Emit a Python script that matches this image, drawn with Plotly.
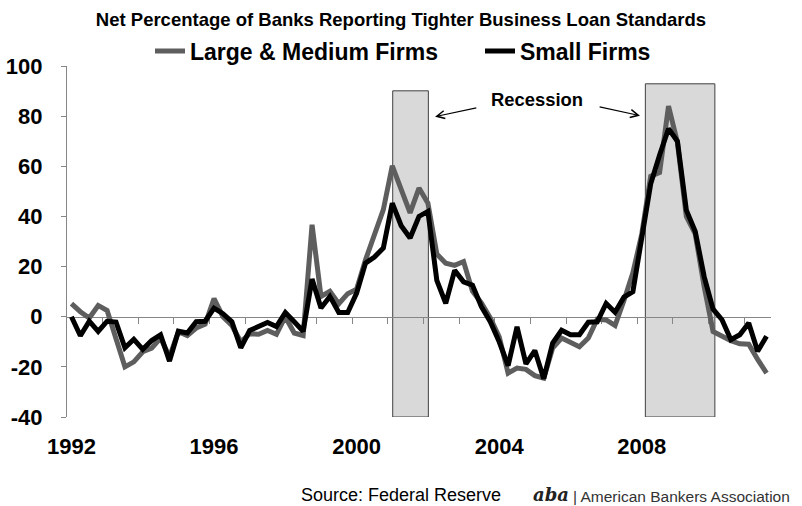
import plotly.graph_objects as go

# Quarterly data, 1992Q1 .. 2011Q3 (net % of banks reporting tighter standards)
start_year = 1992
large_medium = [5.2, 2.0, -0.5, 4.5, 2.5, -8.5, -20.0, -18.0, -14.0, -12.5,
                -8.5, -16.0, -6.0, -7.5, -4.5, -3.0, 7.2, 0.0, -3.5, -10.0,
                -6.8, -7.0, -5.5, -7.0, 0.0, -6.5, -7.5, 36.7, 8.1, 10.1,
                5.2, 9.2, 11.0, 22.7, 32.7, 42.7, 60.2, 50.7, 41.4, 51.3,
                45.3, 25.0, 21.3, 20.5, 22.0, 10.2, 5.5, -0.5, -8.0, -22.5,
                -20.5, -21.0, -23.5, -24.5, -12.5, -8.5, -10.0, -12.0, -8.5, -1.0,
                -1.3, -3.5, 6.5, 17.5, 33.0, 56.0, 57.5, 84.0, 69.5, 40.0,
                33.0, 12.0, -5.9, -7.8, -9.6, -10.8, -11.0, -17.0, -22.5]
small = [0.0, -7.6, -1.8, -5.9, -1.8, -2.1, -12.4, -9.0, -13.0, -9.5,
         -7.2, -17.7, -5.8, -6.5, -2.0, -1.8, 3.4, 1.2, -2.0, -12.4,
         -5.5, -3.7, -2.3, -3.9, 1.7, -2.0, -5.8, 15.0, 3.5, 8.1,
         1.7, 1.7, 9.4, 21.4, 23.8, 27.4, 45.3, 36.3, 31.4, 40.0,
         42.0, 14.5, 5.3, 18.5, 13.9, 12.6, 4.0, -2.0, -10.0, -19.5,
         -4.0, -18.8, -13.5, -24.7, -10.5, -5.4, -7.2, -7.2, -2.2, -2.0,
         5.3, 1.8, 7.8, 10.0, 31.0, 53.0, 64.5, 75.0, 70.0, 42.5,
         34.0, 16.0, 3.0, -1.2, -9.2, -7.2, -2.5, -13.8, -7.8]
quarters = [f"{start_year + k // 4}Q{k % 4 + 1}" for k in range(len(small))]
series_names = ["Large & Medium Firms", "Small Firms"]

x_label_years = ["1992", "1996", "2000", "2004", "2008"]
y_tick_values = [-40, -20, 0, 20, 40, 60, 80, 100]
y_tick_text = ["-40", "-20", "0", "20", "40", "60", "80", "100"]

# recession shading: (start position, end position, top) in quarter-index units
recessions = [(36.05, 40.05, 90.1), (64.4, 72.2, 92.9)]

FONT = "Arial, 'Liberation Sans', sans-serif"
GRAY = "#5e5e5e"
AXIS = "#868686"

xpos = list(range(len(quarters)))
label_pos = [quarters.index(f"{y}Q1") for y in x_label_years]
year_bounds = [quarters.index(q) - 0.5 for q in quarters if q.endswith("Q1")][1:]
xr = [-0.5, len(quarters) - 0.5]
yr = [y_tick_values[0], y_tick_values[-1]]

fig = go.Figure()
fig.add_trace(go.Scatter(x=xpos, y=large_medium, mode="lines", name=series_names[0],
                         line=dict(color=GRAY, width=5), customdata=quarters, legend="legend",
                         hovertemplate="%{customdata}: %{y}<extra></extra>"))
fig.add_trace(go.Scatter(x=xpos, y=small, mode="lines", name=series_names[1],
                         line=dict(color="#000000", width=5), customdata=quarters, legend="legend2",
                         hovertemplate="%{customdata}: %{y}<extra></extra>"))
# invisible helper trace for the tick-mark axis through zero
fig.add_trace(go.Scatter(x=[xpos[0]], y=[None], xaxis="x2", showlegend=False,
                         hoverinfo="skip", mode="lines"))

for x0, x1, top in recessions:
    fig.add_shape(type="rect", xref="x", yref="y", x0=x0, x1=x1, y0=yr[0], y1=top,
                  fillcolor="#d9d9d9", line=dict(color="#404040", width=1),
                  layer="between")

zero_frac = (0 - yr[0]) / (yr[1] - yr[0])
PW, PL = 704, 67

legend_common = dict(orientation="h", xanchor="left", yanchor="middle",
                     y=1 + (66 - 51) / 351,
                     font=dict(size=23, family=FONT, color="#000000", weight="bold"),
                     bgcolor="rgba(0,0,0,0)", borderwidth=0)

fig.update_layout(
    width=802, height=506,
    margin=dict(l=PL, r=31, t=66, b=89, autoexpand=False),
    paper_bgcolor="white", plot_bgcolor="white",
    font=dict(family=FONT, color="#000000"),
    title=dict(text="<b>Net Percentage of Banks Reporting Tighter Business Loan Standards</b>",
               x=0.5, xref="container", xanchor="center",
               y=1 - 20 / 506, yref="container", yanchor="middle",
               font=dict(size=18.5, family=FONT, color="#000000")),
    showlegend=True,
    legend=dict(x=(150 - PL) / PW, **legend_common),
    legend2=dict(x=(480 - PL) / PW, **legend_common),
    xaxis=dict(range=xr, tickmode="array", tickvals=label_pos, ticktext=x_label_years,
               ticks="", showline=False, showgrid=False, zeroline=False,
               tickfont=dict(size=22, family=FONT, color="#000000", weight="bold"),
               ticklabelstandoff=14),
    xaxis2=dict(range=xr, overlaying="x", anchor="free", position=zero_frac, side="bottom",
                tickmode="array", tickvals=year_bounds, showticklabels=False,
                ticks="outside", ticklen=6, tickcolor=AXIS, tickwidth=1.3,
                showline=True, linecolor=AXIS, linewidth=1.3,
                showgrid=False, zeroline=False, layer="below traces"),
    yaxis=dict(range=yr, tickmode="array", tickvals=y_tick_values, ticktext=y_tick_text,
               ticks="outside", ticklen=5, tickcolor=AXIS, tickwidth=1.3,
               showline=True, linecolor=AXIS, linewidth=1.3,
               showgrid=False, zeroline=False,
               tickfont=dict(size=22, family=FONT, color="#000000", weight="bold"),
               ticklabelstandoff=14),
)

fig.add_annotation(text="<b>Recession</b>", xref="x", yref="y", x=52.2, y=86.5,
                   showarrow=False, font=dict(size=18.4, family=FONT, color="#000000"))
fig.add_annotation(text="", xref="x", yref="y", x=40.8, y=79.8, axref="x", ayref="y",
                   ax=45.6, ay=83.4, showarrow=True, arrowhead=5, arrowsize=1.3,
                   arrowwidth=1.2, arrowcolor="#000000")
fig.add_annotation(text="", xref="x", yref="y", x=63.8, y=80.2, axref="x", ayref="y",
                   ax=59.1, ay=83.8, showarrow=True, arrowhead=5, arrowsize=1.3,
                   arrowwidth=1.2, arrowcolor="#000000")

fig.add_annotation(text="Source: Federal Reserve", xref="paper", yref="paper",
                   x=(401 - PL) / PW, y=(417 - 495) / 351, xanchor="center", yanchor="middle",
                   showarrow=False, font=dict(size=18, family=FONT, color="#000000"))
fig.add_annotation(text="<b><i>aba</i></b>", xref="paper", yref="paper",
                   x=(551 - PL) / PW, y=(417 - 494) / 351, xanchor="center", yanchor="middle",
                   showarrow=False, font=dict(size=18, family="'DejaVu Serif', serif", color="#222222"))
fig.add_annotation(text="| American Bankers Association", xref="paper", yref="paper",
                   x=(571 - PL) / PW, y=(417 - 496) / 351, xanchor="left", yanchor="middle",
                   showarrow=False, font=dict(size=15.5, family=FONT, color="#333333"))

fig.write_html("out.html")
